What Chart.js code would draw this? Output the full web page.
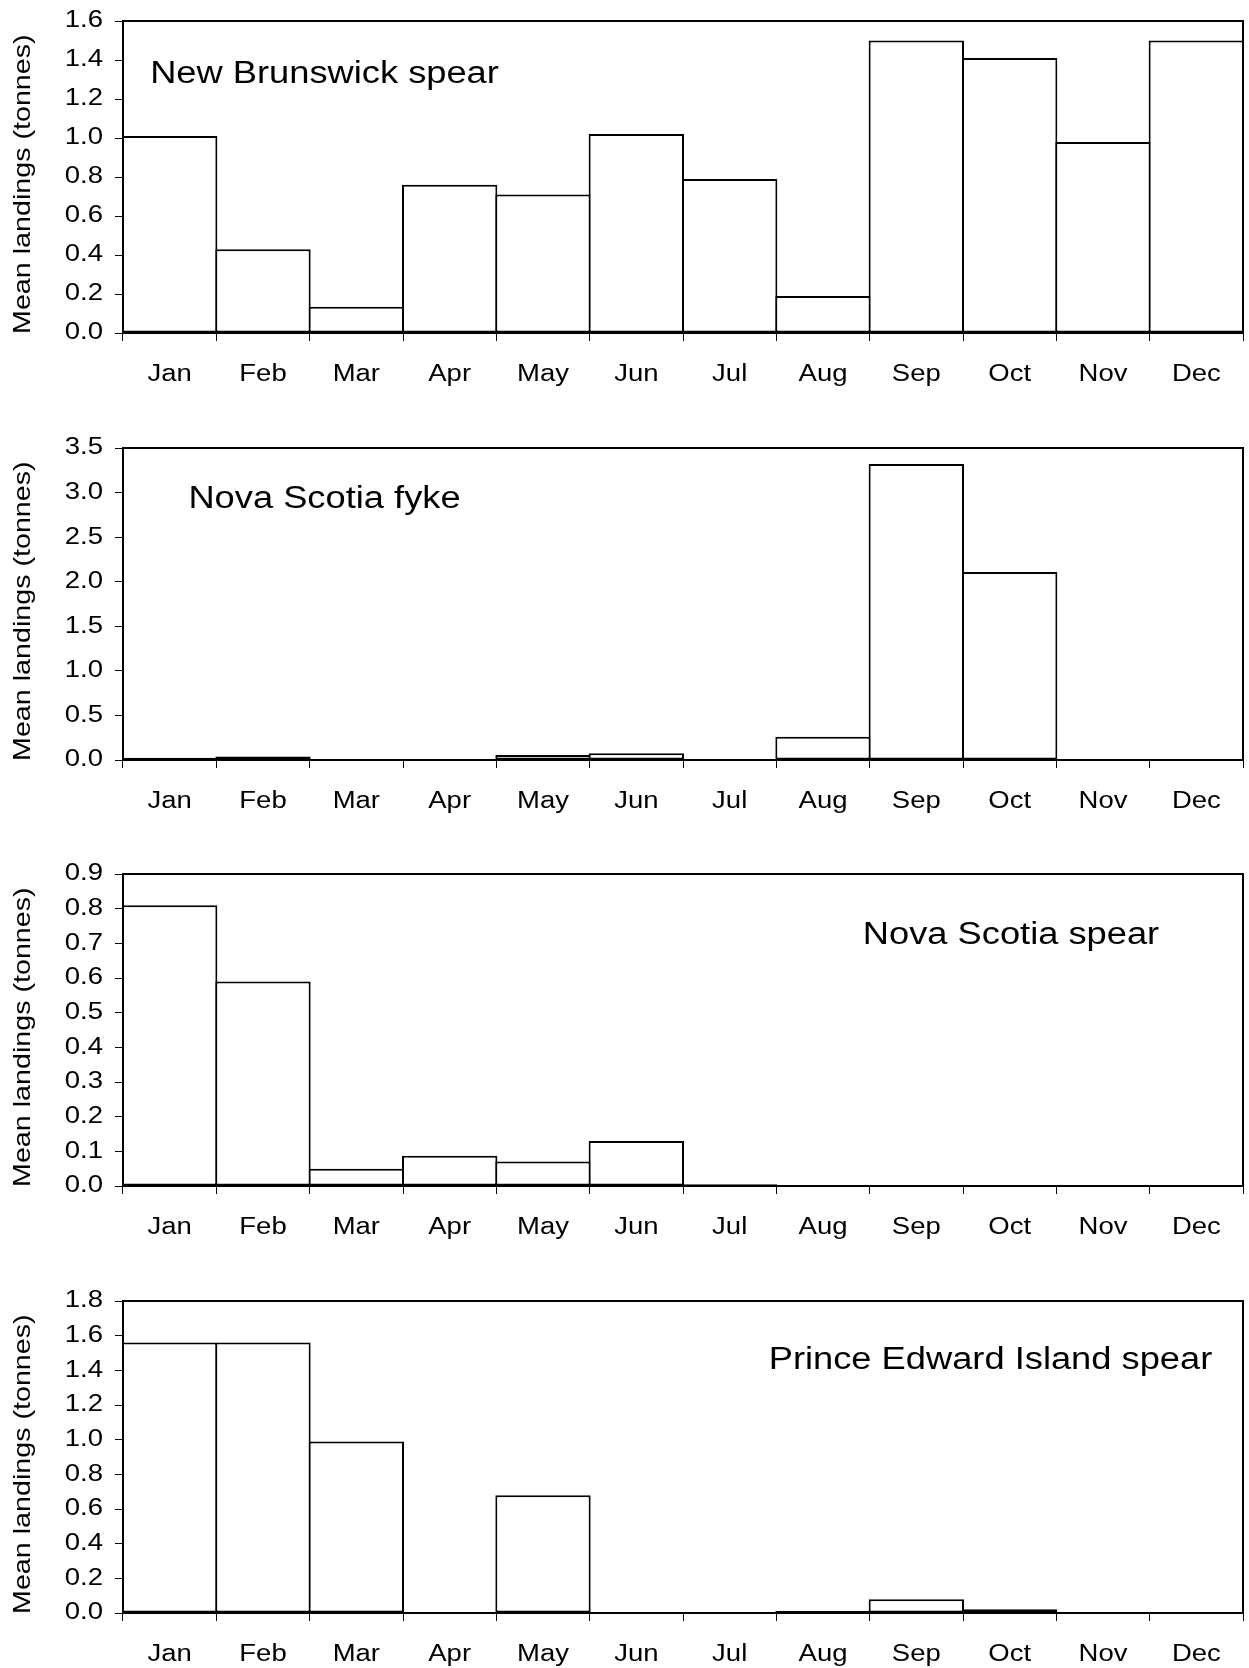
<!DOCTYPE html>
<html><head><meta charset="utf-8">
<script src="https://cdn.jsdelivr.net/npm/chart.js@4/dist/chart.umd.min.js"></script>
<style>
html,body{margin:0;padding:0;background:#fff;overflow:hidden;width:1249px;height:1668px;}
canvas{position:absolute;left:0;display:block;}
</style></head><body>
<canvas id="c1" width="1249" height="388" style="top:0px;width:1249px;height:388px"></canvas>
<canvas id="c2" width="1249" height="388" style="top:427px;width:1249px;height:388px"></canvas>
<canvas id="c3" width="1249" height="388" style="top:853px;width:1249px;height:388px"></canvas>
<canvas id="c4" width="1249" height="388" style="top:1280px;width:1249px;height:388px"></canvas>
<script>
// ---- data ----
const months = ['Jan','Feb','Mar','Apr','May','Jun','Jul','Aug','Sep','Oct','Nov','Dec'];
const nbSpear  = [1.01, 0.43, 0.135, 0.76, 0.71, 1.02, 0.79, 0.19, 1.50, 1.41, 0.98, 1.50];
const nsFyke   = [0.025, 0.04, 0.005, 0.004, 0.055, 0.075, 0, 0.26, 3.32, 2.11, 0.01, 0];
const nsSpear  = [0.81, 0.59, 0.05, 0.087, 0.071, 0.13, 0.005, 0, 0, 0, 0, 0];
const peiSpear = [1.56, 1.56, 0.99, 0, 0.68, 0, 0, 0.012, 0.08, 0.022, 0, 0];
const panelNames = ['New Brunswick spear', 'Nova Scotia fyke', 'Nova Scotia spear', 'Prince Edward Island spear'];
const yMaxes = [1.6, 3.5, 0.9, 1.8];
const ySteps = [0.2, 0.5, 0.1, 0.2];
const yTitle = 'Mean landings (tonnes)';

// ---- text rendering: the reference font is wide, stretch glyphs along reading direction ----
const STRETCH = 1.17;
const proto = CanvasRenderingContext2D.prototype;
const origFill = proto.fillText;
const origMeasure = proto.measureText;
proto.fillText = function(t, x, y, maxW) {
  this.save();
  this.translate(x, y);
  this.scale(STRETCH, 1);
  origFill.call(this, t, 0, 0);
  this.restore();
};
proto.measureText = function(t) {
  const m = origMeasure.call(this, t);
  return {
    width: m.width * STRETCH,
    actualBoundingBoxAscent: m.actualBoundingBoxAscent,
    actualBoundingBoxDescent: m.actualBoundingBoxDescent,
    actualBoundingBoxLeft: m.actualBoundingBoxLeft * STRETCH,
    actualBoundingBoxRight: m.actualBoundingBoxRight * STRETCH
  };
};

const FONT = "'Liberation Sans', Arial, Helvetica, sans-serif";
const PLOT_TOP = 21, PLOT_H = 312, CANVAS_H = 388, Y_AXIS_W = 123, RIGHT_PAD = 6;

const frameAndLabel = {
  id: 'frameAndLabel',
  afterDraw(chart, args, opts) {
    const {ctx, chartArea: a} = chart;
    ctx.save();
    ctx.strokeStyle = '#000';
    ctx.lineWidth = 2;
    ctx.strokeRect(a.left, a.top, a.right - a.left, a.bottom - a.top);
    ctx.fillStyle = '#000';
    ctx.font = '31px ' + FONT;
    ctx.textAlign = 'center';
    ctx.textBaseline = 'middle';
    ctx.fillText(opts.text, opts.x, a.top + opts.dy);
    ctx.restore();
  }
};

function makeChart(id, values, yMax, yStep, name, lx, ldy) {
  new Chart(document.getElementById(id), {
    type: 'bar',
    data: {
      labels: months,
      datasets: [{
        data: values,
        backgroundColor: '#ffffff',
        borderColor: '#000000',
        borderWidth: 2,
        borderSkipped: false,
        barPercentage: 1.0214,
        categoryPercentage: 1,
        clip: false
      }]
    },
    options: {
      responsive: false,
      animation: false,
      devicePixelRatio: 1,
      events: [],
      layout: {padding: {top: PLOT_TOP, right: RIGHT_PAD, left: 0, bottom: 0}},
      plugins: {
        legend: {display: false},
        tooltip: {enabled: false},
        frameAndLabel: {text: name, x: lx, dy: ldy}
      },
      scales: {
        x: {
          type: 'category',
          offset: true,
          grid: {display: true, offset: true, drawOnChartArea: false, drawTicks: true, tickLength: 8, color: '#000', lineWidth: 1},
          border: {display: true, color: '#000', width: 2},
          ticks: {color: '#000', font: {family: FONT, size: 23.5}, padding: 19, maxRotation: 0, autoSkip: false},
          afterFit(s) { s.height = CANVAS_H - PLOT_TOP - PLOT_H; }
        },
        y: {
          min: 0,
          max: yMax,
          grid: {display: true, drawOnChartArea: false, drawTicks: true, tickLength: 8, color: '#000', lineWidth: 1},
          border: {display: true, color: '#000', width: 2},
          ticks: {
            stepSize: yStep,
            color: '#000',
            font: {family: FONT, size: 23.5, lineHeight: 0.5},
            padding: 12,
            callback: v => Number(v).toFixed(1)
          },
          title: {display: true, text: yTitle + '\u2002', color: '#000', font: {family: FONT, size: 24.5}, padding: {top: 9, bottom: 0}},
          afterFit(s) { s.width = Y_AXIS_W; }
        }
      }
    },
    plugins: [frameAndLabel]
  });
}

makeChart('c1', nbSpear, yMaxes[0], ySteps[0], panelNames[0], 324.5, 53);
makeChart('c2', nsFyke, yMaxes[1], ySteps[1], panelNames[1], 324.5, 51.5);
makeChart('c3', nsSpear, yMaxes[2], ySteps[2], panelNames[2], 1011, 61.5);
makeChart('c4', peiSpear, yMaxes[3], ySteps[3], panelNames[3], 990.5, 59);
</script>
</body></html>
